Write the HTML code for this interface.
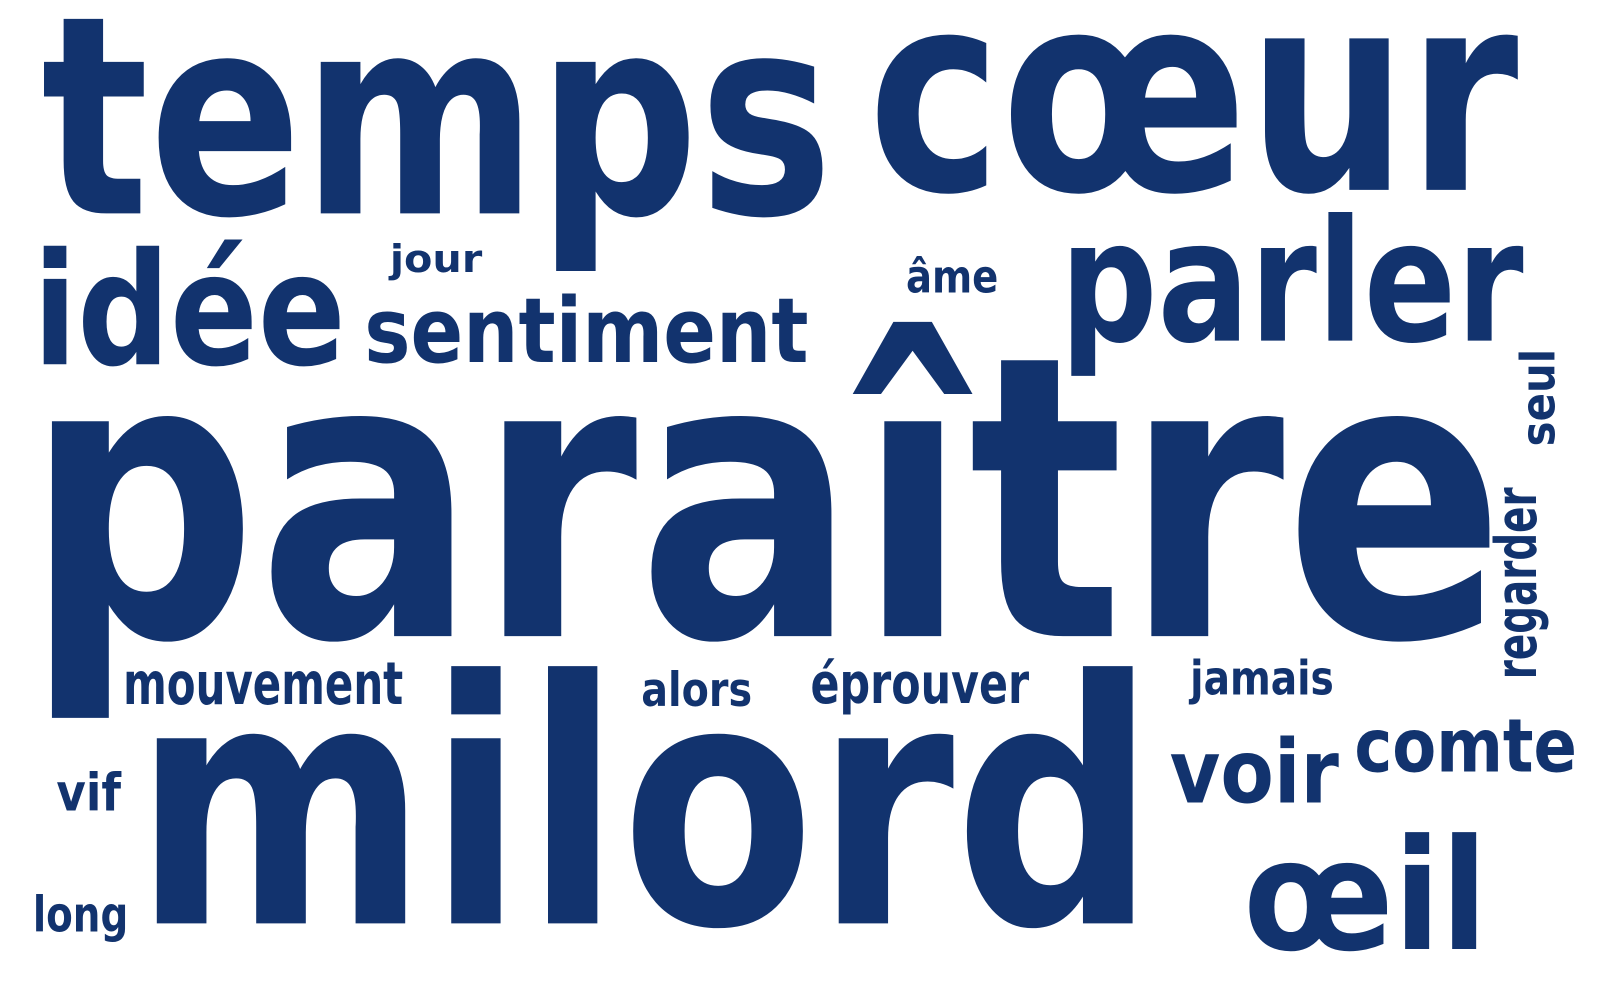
<!DOCTYPE html>
<html><head><meta charset="utf-8"><style>
html,body{margin:0;padding:0;background:#fff;}
svg{display:block;}
text{font-family:"DejaVu Sans","Liberation Sans",sans-serif;font-weight:bold;fill:#12336e;}
</style></head><body>
<svg id="cloud" width="1600" height="1000" viewBox="0 0 1600 1000"><g id="wrap" transform="scale(1.026)"></g></svg>
<script>
const words = ["temps","cœur","idée","jour","âme","sentiment","parler","paraître","seul","regarder","mouvement","milord","alors","éprouver","jamais","voir","comte","vif","long","œil"];
const sizes = [270,270,152,37,44,88,165,383,46,56,57,330,46,55,46,86,72,50,48,150];
const xs = [40,846,32,380,883,355,1033,24,1515,1497,120,130,625,790,1160,1140,1320,55,32,1212];
const ys = [208,185,355,265,285,353,332,620,435,662,686,900,688,685,677,782,752,790,908,925];
const lens = [772,634,305,90,90,433,452,1443,95,187,273,997,108,213,140,165,217,63,93,238];
const rots = [0,0,0,0,0,0,0,0,-90,-90,0,0,0,0,0,0,0,0,0,0];
const g = document.getElementById('wrap');
const ns = 'http://www.w3.org/2000/svg';
words.forEach((w,i)=>{
  const t = document.createElementNS(ns,'text');
  t.setAttribute('x', xs[i]);
  t.setAttribute('y', ys[i]);
  t.setAttribute('font-size', sizes[i]);
  t.setAttribute('textLength', lens[i]);
  t.setAttribute('lengthAdjust', 'spacingAndGlyphs');
  if (rots[i]) t.setAttribute('transform', 'rotate(' + rots[i] + ' ' + xs[i] + ' ' + ys[i] + ')');
  t.textContent = w;
  
  
  g.appendChild(t);
});
</script>
</body></html>
